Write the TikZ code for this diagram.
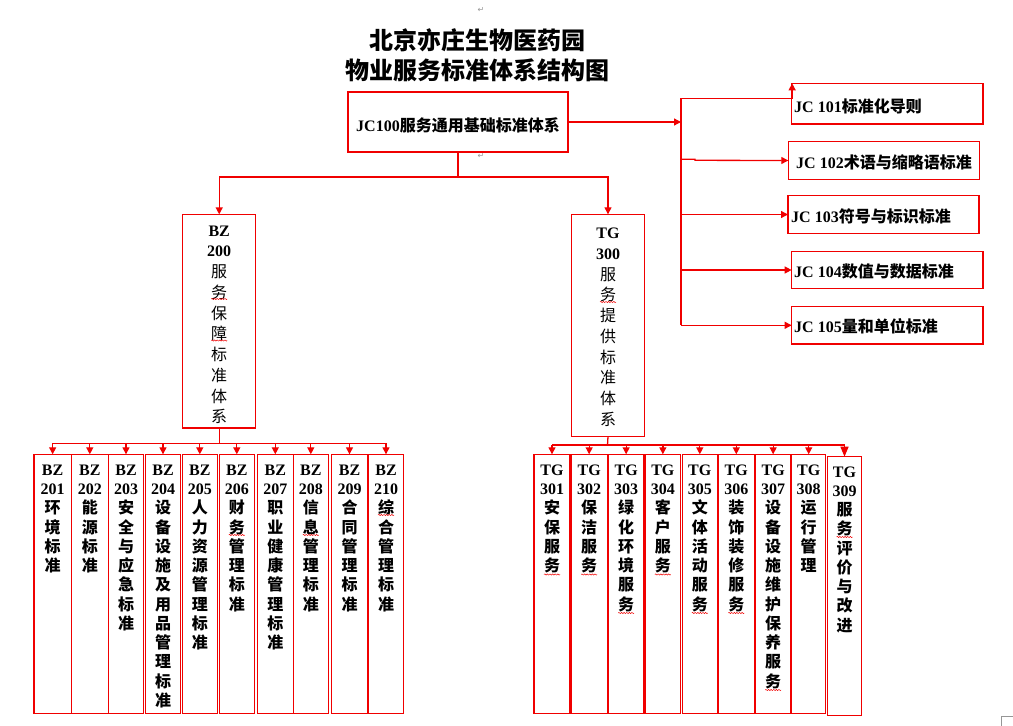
\documentclass[tikz,border=0pt]{standalone}
\usepackage{fontspec}
\setmainfont{Liberation Serif}
\newfontfamily\cjk{Noto Sans CJK SC}
\newfontfamily\lat{Liberation Serif}
\newfontfamily\symf{DejaVu Sans}
\usetikzlibrary{arrows.meta,decorations.pathmorphing,calc}
\definecolor{lred}{RGB}{240,0,0}
\definecolor{pmark}{RGB}{150,150,150}
\newcommand\vtx[3]{{\lat\bfseries #1}\\{\lat\bfseries #2}\\#3}
\begin{document}
\begin{tikzpicture}[x=1pt,y=-1pt,
 box/.style={draw=lred,line width=1.3pt,inner sep=0pt,outer sep=0pt,rectangle},
 conn/.style={draw=lred,line width=1.3pt},
 arr/.style={-{Triangle[length=7pt,width=7pt]}},
 bigarr/.style={-{Triangle[length=10pt,width=8pt]}},
 vtb/.style={inner sep=0pt,align=center,text width=30pt,anchor=base,font=\fontsize{16}{19.25}\selectfont\cjk\bfseries},
 vtr/.style={inner sep=0pt,align=center,text width=30pt,anchor=base,font=\fontsize{16}{20.75}\selectfont\cjk},
 jct/.style={inner sep=0pt,anchor=west,font=\fontsize{16}{19}\selectfont\bfseries},
 ttl/.style={inner sep=0pt,font=\fontsize{24}{28}\selectfont\cjk\bfseries},
 wavy/.style={draw=lred,line width=0.5pt,decorate,decoration={snake,amplitude=0.6pt,segment length=2.6pt}},
 pm/.style={inner sep=0pt,text=pmark,font=\symf\fontsize{8}{8}\selectfont}
]
\useasboundingbox (0,0) rectangle (1013,726);

% title
\node[ttl] (title1) at (477.5,40) {北京亦庄生物医药园};
\node[ttl] (title2) at (477.5,70) {物业服务标准体系结构图};
\node[pm] (pm1) at (481,10) {↵};
\node[pm] (pm2) at (481,156) {↵};

% JC boxes
\node[box,minimum width=220pt,minimum height=60pt] (jc100) at (458,122) {};
\node[jct,anchor=center] (jc100t) at (458,125) {{\lat JC100}{\cjk 服务通用基础标准体系}};
\node[box,minimum width=191.3pt,minimum height=40.7pt] (jc101) at (887.3,103.7) {};
\node[box,minimum width=191pt,minimum height=37.6pt] (jc102) at (883.8,160.5) {};
\node[box,minimum width=191pt,minimum height=37.6pt] (jc103) at (883.5,214.5) {};
\node[box,minimum width=191.3pt,minimum height=36.6pt] (jc104) at (887.3,270) {};
\node[box,minimum width=191.3pt,minimum height=37.3pt] (jc105) at (887.3,325.3) {};
\node[jct] (jc101t) at (794,106) {{\lat JC 101}{\cjk 标准化导则}};
\node[jct] (jc102t) at (796,162) {{\lat JC 102}{\cjk 术语与缩略语标准}};
\node[jct] (jc103t) at (791,216.7) {{\lat JC 103}{\cjk 符号与标识标准}};
\node[jct] (jc104t) at (794,271.7) {{\lat JC 104}{\cjk 数值与数据标准}};
\node[jct] (jc105t) at (794,326.7) {{\lat JC 105}{\cjk 量和单位标准}};

% JC connectors
\coordinate (trk) at (681,122);
\coordinate (trktop) at (681,98.3);
\coordinate (trkbot) at (681,325.3);
\coordinate (jog) at (695,159.3);
\draw[conn,arr] (jc100.east) -- (trk);
\draw[conn] (trktop) -- (trkbot);
\draw[conn,arr] (trktop) -| ($(jc101.north west)+(0.5,0)$);
\draw[conn,arr] (trk |- jog) -- (jog) -- ++(0,1) -- (jc102.west);
\draw[conn,arr] (trk |- jc103.west) -- (jc103.west);
\draw[conn,arr] (trk |- jc104.west) -- (jc104.west);
\draw[conn,arr] (trkbot) -- (jc105.west);

% level 2
\node[box,minimum width=73pt,minimum height=213.7pt] (bz200) at (219.2,321.2) {};
\node[box,minimum width=72.6pt,minimum height=222.2pt] (tg300) at (608,325.4) {};
\node[vtr] (bz200t) at (219.2,236) {\vtx{BZ}{200}{服\\务\\保\\障\\标\\准\\体\\系}};
\node[vtr] (tg300t) at (608,238.7) {\vtx{TG}{300}{服\\务\\提\\供\\标\\准\\体\\系}};
\coordinate (split) at (458,177);
\draw[conn] (jc100.south) -- (split);
\draw[conn,arr] (split) -| (bz200.north);
\draw[conn,arr] (split) -| (tg300.north);

% BZ children
\node[box,minimum width=37.3pt,minimum height=259pt] (b201) at (52.65,583.8) {};
\node[box,minimum width=37pt,minimum height=259pt] (b202) at (89.8,583.8) {};
\node[box,minimum width=35.4pt,minimum height=259pt] (b203) at (126,583.8) {};
\node[box,minimum width=35.4pt,minimum height=259pt] (b204) at (163,583.8) {};
\node[box,minimum width=35pt,minimum height=259pt] (b205) at (199.8,583.8) {};
\node[box,minimum width=35pt,minimum height=259pt] (b206) at (236.8,583.8) {};
\node[box,minimum width=36pt,minimum height=259pt] (b207) at (275.3,583.8) {};
\node[box,minimum width=35pt,minimum height=259pt] (b208) at (310.8,583.8) {};
\node[box,minimum width=36.4pt,minimum height=259pt] (b209) at (349.5,583.8) {};
\node[box,minimum width=34.6pt,minimum height=259pt] (b210) at (386,583.8) {};
\node[vtb] (t201) at (52.65,475.3) {\vtx{BZ}{201}{环\\境\\标\\准}};
\node[vtb] (t202) at (89.8,475.3) {\vtx{BZ}{202}{能\\源\\标\\准}};
\node[vtb] (t203) at (126,475.3) {\vtx{BZ}{203}{安\\全\\与\\应\\急\\标\\准}};
\node[vtb] (t204) at (163,475.3) {\vtx{BZ}{204}{设\\备\\设\\施\\及\\用\\品\\管\\理\\标\\准}};
\node[vtb] (t205) at (199.8,475.3) {\vtx{BZ}{205}{人\\力\\资\\源\\管\\理\\标\\准}};
\node[vtb] (t206) at (236.8,475.3) {\vtx{BZ}{206}{财\\务\\管\\理\\标\\准}};
\node[vtb] (t207) at (275.3,475.3) {\vtx{BZ}{207}{职\\业\\健\\康\\管\\理\\标\\准}};
\node[vtb] (t208) at (310.8,475.3) {\vtx{BZ}{208}{信\\息\\管\\理\\标\\准}};
\node[vtb] (t209) at (349.5,475.3) {\vtx{BZ}{209}{合\\同\\管\\理\\标\\准}};
\node[vtb] (t210) at (386,475.3) {\vtx{BZ}{210}{综\\合\\管\\理\\标\\准}};
\coordinate (bzbus) at (219.2,443.3);
\draw[conn] (bz200.south) -- (bzbus);
\draw[conn] (bzbus -| b201) -- (bzbus -| b210);
\foreach \n in {201,...,210} \draw[conn,arr] (bzbus -| b\n) -- (b\n.north);

% TG children
\node[box,minimum width=36pt,minimum height=259pt] (g301) at (552,583.8) {};
\node[box,minimum width=36.3pt,minimum height=259pt] (g302) at (589.15,583.8) {};
\node[box,minimum width=35.7pt,minimum height=259pt] (g303) at (626.15,583.8) {};
\node[box,minimum width=35.7pt,minimum height=259pt] (g304) at (662.85,583.8) {};
\node[box,minimum width=35pt,minimum height=259pt] (g305) at (699.8,583.8) {};
\node[box,minimum width=36pt,minimum height=259pt] (g306) at (736.3,583.8) {};
\node[box,minimum width=35.7pt,minimum height=259pt] (g307) at (773.15,583.8) {};
\node[box,minimum width=34pt,minimum height=259pt] (g308) at (808.7,583.8) {};
\node[box,minimum width=34.4pt,minimum height=258.6pt] (g309) at (844.5,586) {};
\node[vtb] (s301) at (552,475.3) {\vtx{TG}{301}{安\\保\\服\\务}};
\node[vtb] (s302) at (589.15,475.3) {\vtx{TG}{302}{保\\洁\\服\\务}};
\node[vtb] (s303) at (626.15,475.3) {\vtx{TG}{303}{绿\\化\\环\\境\\服\\务}};
\node[vtb] (s304) at (662.85,475.3) {\vtx{TG}{304}{客\\户\\服\\务}};
\node[vtb] (s305) at (699.8,475.3) {\vtx{TG}{305}{文\\体\\活\\动\\服\\务}};
\node[vtb] (s306) at (736.3,475.3) {\vtx{TG}{306}{装\\饰\\装\\修\\服\\务}};
\node[vtb] (s307) at (773.15,475.3) {\vtx{TG}{307}{设\\备\\设\\施\\维\\护\\保\\养\\服\\务}};
\node[vtb] (s308) at (808.7,475.3) {\vtx{TG}{308}{运\\行\\管\\理}};
\node[vtb] (s309) at (844.5,477) {\vtx{TG}{309}{服\\务\\评\\价\\与\\改\\进}};
\coordinate (tgbus) at (607.5,445);
\draw[conn] (tg300.south) -- (tgbus);
\draw[conn] (tgbus -| g301) -- (tgbus -| g309);
\foreach \n in {301,...,308} \draw[conn,arr] (tgbus -| g\n) -- (g\n.north);
\draw[conn,bigarr] (tgbus -| g309) -- (g309.north);

% spell-check marks
\foreach \x/\y in {219.2/299, 219.2/340.5, 608/302, 236.8/535, 310.8/535, 386/515,
  552/574.5, 589.15/574.5, 662.85/574.5, 626.15/613, 699.8/613, 736.3/613, 773.15/690, 844.5/537}
  \draw[wavy] (\x-8,\y) -- (\x+8,\y);

% page corner mark
\draw[pmark,line width=0.8pt] (1013,716.7) -- (1001.7,716.7) -- (1001.7,726);
\end{tikzpicture}
\end{document}
